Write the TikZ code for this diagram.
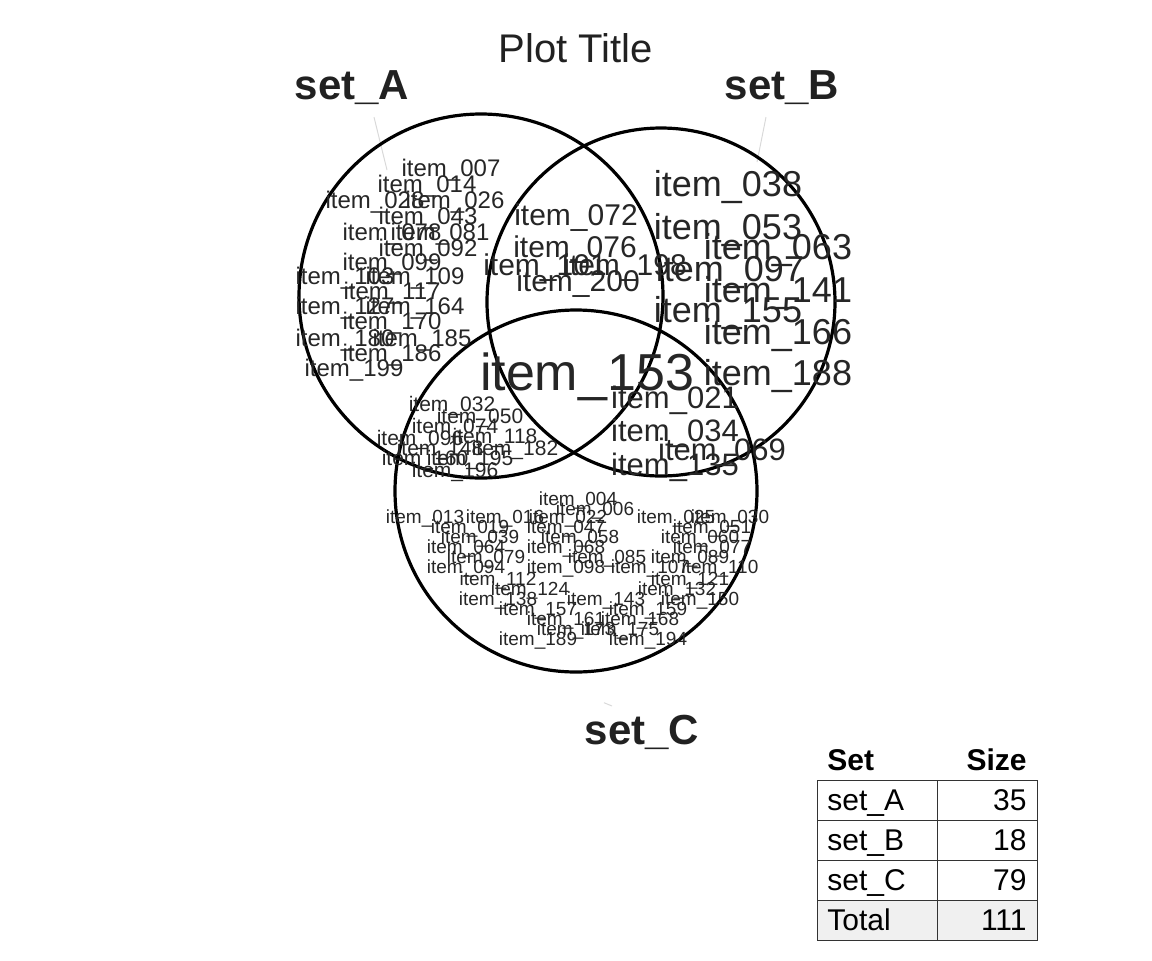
\documentclass[tikz,border=0pt]{standalone}
\usepackage{fontspec}
\setmainfont{Liberation Sans}
\begin{document}
\begin{tikzpicture}[x=0.5pt,y=-0.5pt,
  circ/.style={draw=black,line width=1.6pt},
  lead/.style={draw=black!15,line width=0.5pt},
  setlab/.style={font=\fontsize{21}{21}\selectfont\bfseries,text=black!87},
  ia/.style={font=\fontsize{12}{12}\selectfont,text=black!85,inner sep=0pt},
  ib/.style={font=\fontsize{18}{18}\selectfont,text=black!85,inner sep=0pt},
  ic/.style={font=\fontsize{9.5}{9.5}\selectfont,text=black!85,inner sep=0pt},
  tb/.style={font=\fontsize{15}{15}\selectfont,text=black,inner sep=0pt},
  cell/.style={draw=black!80,line width=0.5pt}]
\useasboundingbox (0,0) rectangle (1152,960);
\node[font=\fontsize{20}{20}\selectfont,text=black!87] (title) at (576,48) {Plot Title};
\coordinate (ca) at (481,296); \coordinate (cb) at (661,302); \coordinate (cc) at (576,491);
\node[setlab] (la) at (352,88) {set\_A};
\node[setlab] (lb) at (782,88) {set\_B};
\node[setlab] (lc) at (642,732) {set\_C};
\coordinate (pa) at (387,170); \coordinate (pb) at (757,162); \coordinate (pc) at (612,706);
\draw[lead] (la.south) ++(22,5) coordinate (qa) -- (pa);
\draw[lead] (lb.south) ++(-16,5) coordinate (qb) -- (pb);
\draw[lead] (lc.north) ++(-38,-5) coordinate (qc) -- (pc);
\draw[circ] (ca) circle[radius=182];
\draw[circ] (cb) circle[radius=174];
\draw[circ] (cc) circle[radius=181];
% A only
\foreach \t/\x/\y in {007/451/170,014/427/186,026/455/202,028/375/202,043/428/218,078/392/234,081/440/234,092/428/250,099/392/264,103/345/278,109/415/278,117/392/293,127/345/308,164/415/308,170/392/323,180/345/340,185/422/340,186/392/355,199/354/370}
  \node[ia] (a\t) at (\x,\y) {item\_\t};
% A and B
\foreach \t/\x/\y in {072/576/218,076/575/250,101/545/268,198/625/268,200/578/284}
  \node[ia,font=\fontsize{15}{15}\selectfont] (ab\t) at (\x,\y) {item\_\t};
% B only
\foreach \t/\x/\y in {038/728/187,053/728/230,063/778/250,097/730/272,141/778/293,155/728/313,166/778/335,188/778/376}
  \node[ib] (b\t) at (\x,\y) {item\_\t};
% all
\node[font=\fontsize{26}{26}\selectfont,text=black!85,inner sep=0pt] (abc153) at (587,377) {item\_153};
% B and C
\foreach \t/\x/\y in {021/675/400,034/675/433,069/722/452,135/675/467}
  \node[ib,font=\fontsize{15.5}{15.5}\selectfont] (bc\t) at (\x,\y) {item\_\t};
% A and C
\foreach \t/\x/\y in {032/452/406,050/480/418,074/455/428,096/420/440,118/495/438,148/440/450,182/515/450,160/425/460,195/470/460,196/455/472}
  \node[ic,font=\fontsize{10.5}{10.5}\selectfont] (ac\t) at (\x,\y) {item\_\t};
% C only
\foreach \t/\x/\y in {004/578/500,006/595/510,013/425/518,016/505/518,022/568/518,025/676/518,030/730/518,019/470/528,047/566/528,051/712/528,039/480/538,058/580/538,060/700/538,064/466/548,068/566/548,077/712/548,079/486/558,085/607/558,089/690/558,094/466/568,098/566/568,107/650/568,110/720/568,112/498/580,121/690/580,124/530/590,132/677/590,138/498/600,143/606/600,150/700/600,157/538/610,159/648/610,161/566/620,168/640/620,173/576/630,175/620/630,189/538/640,194/648/640}
  \node[ic] (c\t) at (\x,\y) {item\_\t};
% table
\fill[black!6] (817,900) rectangle (1037,940);
\foreach \y in {780,820,860,900}{
  \draw[cell] (817,\y) rectangle (937,\y+40);
  \draw[cell] (937,\y) rectangle (1037,\y+40);}
\node[tb,font=\fontsize{15}{15}\selectfont\bfseries,anchor=base west] (th1) at (827,770) {Set};
\node[tb,font=\fontsize{15}{15}\selectfont\bfseries,anchor=base east] (th2) at (1027,770) {Size};
\foreach \n/\s/\y in {set\_A/35/810,set\_B/18/850,set\_C/79/890,Total/111/930}{
  \node[tb,anchor=base west] at (827,\y) {\n};
  \node[tb,anchor=base east] at (1027,\y) {\s};}
\end{tikzpicture}
\end{document}
